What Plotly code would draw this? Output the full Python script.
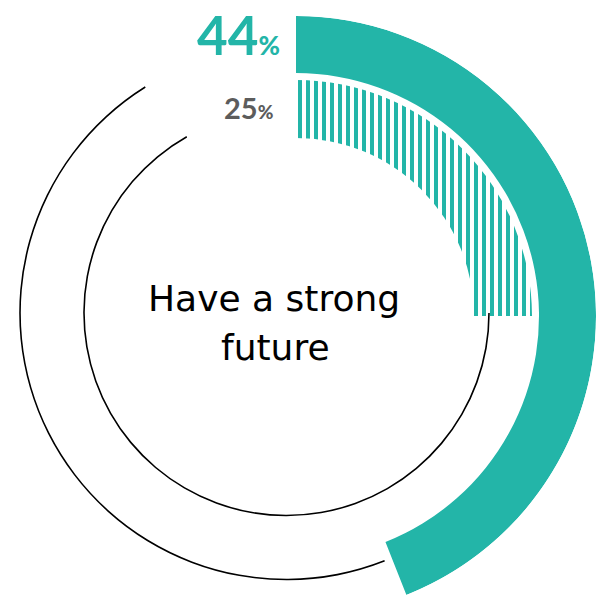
import plotly.graph_objects as go

# ---- data -------------------------------------------------------------
metric_lines = ["Have a strong", "future"]
outer_value = 44   # percent, solid ring
inner_value = 25   # percent, striped ring

# ---- style ------------------------------------------------------------
W, H = 596, 606
TEAL = "#23b5a8"
GREY = "#5c5c5c"
FONT = "Lato"
BODY_FONT = "DejaVu Sans"

# ring geometry (radial axis units = pixels)
OUTER_BAND = (243, 300)
INNER_BAND = (178, 236)
OUTER_TRACK_R = 266.5
INNER_TRACK_R = 202.5
TRACK_W = 1.6
OUTER_TRACK_END = 328.0   # degrees, clockwise from 12 o'clock
INNER_TRACK_END = 330.5


def px_x(x):
    return x / W


def px_y(y):
    return 1 - y / H


def arc(start_deg, end_deg):
    """centre angle and angular width of an arc running clockwise"""
    return (start_deg + end_deg) / 2, end_deg - start_deg


fig = go.Figure()

# solid outer ring
oc, ow = arc(0, outer_value * 3.6)
fig.add_trace(go.Barpolar(
    theta=[oc], width=[ow], base=[OUTER_BAND[0]], r=[OUTER_BAND[1] - OUTER_BAND[0]],
    marker=dict(color=TEAL, line=dict(width=0)),
    subplot="polar", hoverinfo="skip", showlegend=False,
))

# striped inner ring
ic, iw = arc(0, inner_value * 3.6)
fig.add_trace(go.Barpolar(
    theta=[ic], width=[iw], base=[INNER_BAND[0]], r=[INNER_BAND[1] - INNER_BAND[0]],
    marker=dict(color="white", line=dict(width=0),
                pattern=dict(shape="|", size=8, solidity=0.5,
                             fgcolor=TEAL, bgcolor="white", fillmode="replace")),
    subplot="polar", hoverinfo="skip", showlegend=False,
))

# thin tracks for the remaining share
tc, tw = arc(outer_value * 3.6, OUTER_TRACK_END)
fig.add_trace(go.Barpolar(
    theta=[tc], width=[tw], base=[OUTER_TRACK_R - TRACK_W / 2], r=[TRACK_W],
    marker=dict(color="black", line=dict(width=0)),
    subplot="polar2", hoverinfo="skip", showlegend=False,
))
tc, tw = arc(inner_value * 3.6, INNER_TRACK_END)
fig.add_trace(go.Barpolar(
    theta=[tc], width=[tw], base=[INNER_TRACK_R - TRACK_W / 2], r=[TRACK_W],
    marker=dict(color="black", line=dict(width=0)),
    subplot="polar2", hoverinfo="skip", showlegend=False,
))

hidden_radial = dict(visible=False, showgrid=False, showline=False)
hidden_angular = dict(visible=False, showgrid=False, showline=False,
                      rotation=90, direction="clockwise")

fig.update_layout(
    width=W, height=H,
    margin=dict(l=0, r=0, t=0, b=0),
    paper_bgcolor="white",
    plot_bgcolor="white",
    barmode="overlay",
    polar=dict(
        domain=dict(x=[px_x(296), px_x(596)], y=[px_y(598), px_y(16)]),
        sector=[-70, 90],
        hole=0,
        bgcolor="rgba(0,0,0,0)",
        radialaxis=dict(range=[0, 300], **hidden_radial),
        angularaxis=hidden_angular,
        barmode="overlay",
    ),
    polar2=dict(
        domain=dict(x=[px_x(6.5), px_x(566.5)], y=[px_y(593), px_y(33)]),
        bgcolor="rgba(0,0,0,0)",
        radialaxis=dict(range=[0, 280], **hidden_radial),
        angularaxis=hidden_angular,
        barmode="overlay",
    ),
)

annotations = [
    dict(text=f"<b>{outer_value}</b><span style='font-size:26px'>%</span>",
         x=px_x(282), y=px_y(34), xanchor="right", yanchor="middle",
         font=dict(family=FONT, size=53, color=TEAL, weight=900)),
    dict(text=f"<b>{inner_value}</b><span style='font-size:19px'>%</span>",
         x=px_x(276), y=px_y(108), xanchor="right", yanchor="middle",
         font=dict(family=FONT, size=29, color=GREY, weight=900)),
    dict(text=metric_lines[0], x=px_x(274), y=px_y(298), xanchor="center", yanchor="middle",
         font=dict(family=BODY_FONT, size=36, color="black")),
    dict(text=metric_lines[1], x=px_x(275), y=px_y(347), xanchor="center", yanchor="middle",
         font=dict(family=BODY_FONT, size=36, color="black")),
]
for a in annotations:
    a.update(xref="paper", yref="paper", showarrow=False)
fig.update_layout(annotations=annotations)

fig.write_html("out.html")
